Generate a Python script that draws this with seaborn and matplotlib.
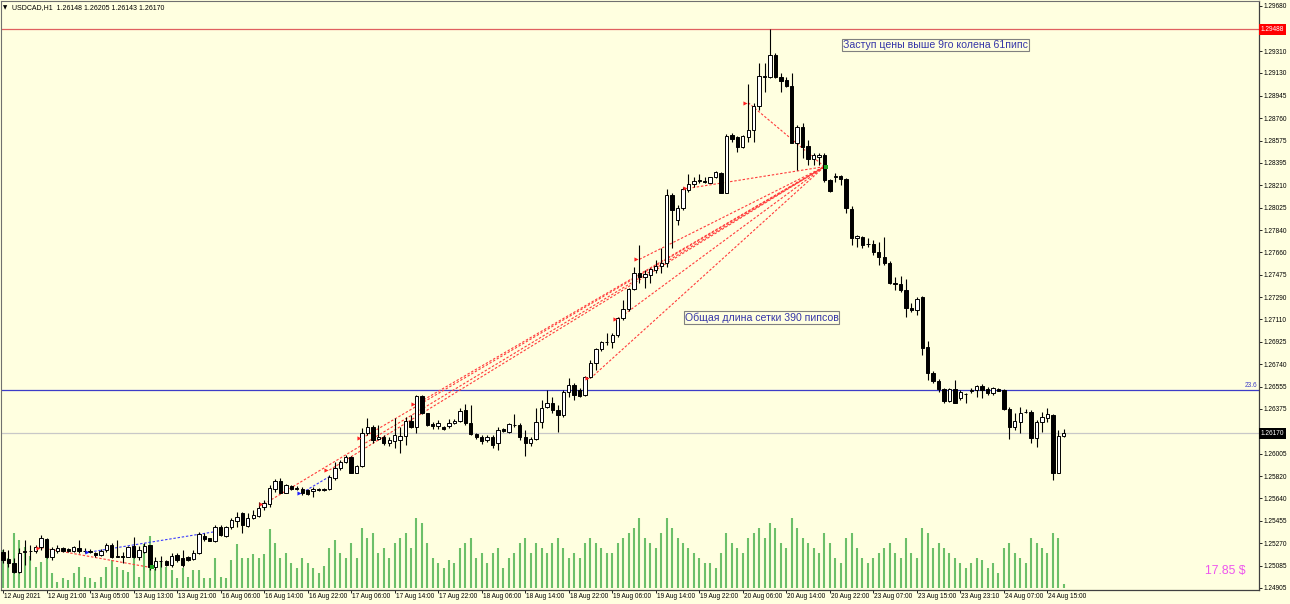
import matplotlib
matplotlib.use("Agg")
import matplotlib.pyplot as plt
import matplotlib.transforms as mtransforms
import numpy as np
import pandas as pd
import seaborn as sns

# ---------------- data ----------------
symbol = "USDCAD,H1"
header_values = ["1.26148", "1.26205", "1.26143", "1.26170"]

opens = [
    1.25200, 1.25137, 1.25105, 1.25036, 1.25195, 1.25206, 1.25209, 1.25236, 1.25304, 1.25154,
    1.25209, 1.25228, 1.25220, 1.25209, 1.25228, 1.25209, 1.25209, 1.25192, 1.25170, 1.25214,
    1.25255, 1.25159, 1.25165, 1.25159, 1.25247, 1.25154, 1.25200, 1.25252, 1.25077, 1.25127,
    1.25127, 1.25091, 1.25170, 1.25146, 1.25154, 1.25137, 1.25192, 1.25329, 1.25310, 1.25291,
    1.25406, 1.25329, 1.25400, 1.25452, 1.25515, 1.25411, 1.25474, 1.25493, 1.25564, 1.25592,
    1.25715, 1.25783, 1.25684, 1.25739, 1.25715, 1.25712, 1.25706, 1.25701, 1.25712, 1.25706,
    1.25712, 1.25802, 1.25884, 1.25939, 1.25975, 1.25849, 1.25903, 1.26177, 1.26226, 1.26122,
    1.26139, 1.26095, 1.26111, 1.26117, 1.26150, 1.26276, 1.26226, 1.26481, 1.26336, 1.26246,
    1.26232, 1.26226, 1.26232, 1.26259, 1.26276, 1.26363, 1.26259, 1.26166, 1.26139, 1.26117,
    1.26144, 1.26089, 1.26205, 1.26185, 1.26243, 1.26240, 1.26139, 1.26089, 1.26122, 1.26267,
    1.26385, 1.26418, 1.26360, 1.26322, 1.26513, 1.26568, 1.26527, 1.26486, 1.26631, 1.26751,
    1.26861, 1.26924, 1.26924, 1.26979, 1.27115, 1.27189, 1.27354, 1.27490, 1.27458, 1.27471,
    1.27512, 1.27545, 1.27567, 1.28128, 1.27923, 1.28019, 1.28169, 1.28219, 1.28246, 1.28246,
    1.28229, 1.28273, 1.28312, 1.28147, 1.28621, 1.28602, 1.28520, 1.28602, 1.28662, 1.28859,
    1.29098, 1.29100, 1.29278, 1.29094, 1.29072, 1.29023, 1.28558, 1.28686, 1.28530, 1.28421,
    1.28443, 1.28456, 1.28251, 1.28280, 1.28284, 1.28257, 1.28013, 1.27775, 1.27786, 1.27722,
    1.27726, 1.27664, 1.27617, 1.27572, 1.27408, 1.27397, 1.27348, 1.27198, 1.27184, 1.27288,
    1.26878, 1.26669, 1.26604, 1.26533, 1.26439, 1.26533, 1.26459, 1.26497, 1.26519, 1.26527,
    1.26560, 1.26533, 1.26500, 1.26533, 1.26527, 1.26369, 1.26226, 1.26267, 1.26345, 1.26349,
    1.26131, 1.26267, 1.26295, 1.26322, 1.25848, 1.26148,
]
highs = [
    1.25222, 1.25214, 1.25146, 1.25228, 1.25296, 1.25255, 1.25258, 1.25337, 1.25310, 1.25241,
    1.25255, 1.25241, 1.25228, 1.25247, 1.25296, 1.25228, 1.25222, 1.25200, 1.25220, 1.25269,
    1.25269, 1.25296, 1.25200, 1.25247, 1.25324, 1.25247, 1.25274, 1.25258, 1.25154, 1.25165,
    1.25132, 1.25187, 1.25187, 1.25214, 1.25165, 1.25214, 1.25365, 1.25351, 1.25315, 1.25419,
    1.25415, 1.25408, 1.25474, 1.25529, 1.25529, 1.25515, 1.25543, 1.25611, 1.25625, 1.25748,
    1.25794, 1.25802, 1.25752, 1.25745, 1.25739, 1.25734, 1.25712, 1.25734, 1.25720, 1.25720,
    1.25829, 1.25939, 1.25953, 1.25994, 1.25985, 1.25910, 1.26213, 1.26295, 1.26240, 1.26240,
    1.26158, 1.26144, 1.26295, 1.26226, 1.26309, 1.26322, 1.26486, 1.26486, 1.26340, 1.26267,
    1.26281, 1.26232, 1.26287, 1.26287, 1.26377, 1.26412, 1.26404, 1.26177, 1.26158, 1.26158,
    1.26158, 1.26226, 1.26213, 1.26254, 1.26330, 1.26254, 1.26199, 1.26139, 1.26377, 1.26445,
    1.26527, 1.26472, 1.26404, 1.26527, 1.26623, 1.26582, 1.26540, 1.26642, 1.26773, 1.26869,
    1.26932, 1.26992, 1.26992, 1.27129, 1.27266, 1.27362, 1.27540, 1.27718, 1.27512, 1.27526,
    1.27594, 1.27690, 1.28175, 1.28142, 1.28046, 1.28197, 1.28300, 1.28279, 1.28300, 1.28279,
    1.28279, 1.28328, 1.28320, 1.28629, 1.28634, 1.28613, 1.28621, 1.29040, 1.28881, 1.29209,
    1.29209, 1.29488, 1.29291, 1.29127, 1.29100, 1.29127, 1.28703, 1.28720, 1.28580, 1.28473,
    1.28473, 1.28473, 1.28260, 1.28309, 1.28292, 1.28268, 1.28038, 1.27800, 1.27791, 1.27775,
    1.27759, 1.27745, 1.27783, 1.27586, 1.27457, 1.27463, 1.27438, 1.27242, 1.27293, 1.27299,
    1.26932, 1.26683, 1.26617, 1.26544, 1.26544, 1.26609, 1.26527, 1.26505, 1.26544, 1.26568,
    1.26576, 1.26552, 1.26554, 1.26540, 1.26535, 1.26390, 1.26338, 1.26390, 1.26371, 1.26363,
    1.26281, 1.26349, 1.26382, 1.26330, 1.26199, 1.26205,
]
lows = [
    1.25105, 1.25077, 1.25023, 1.25023, 1.25091, 1.25132, 1.25187, 1.25214, 1.25146, 1.25132,
    1.25192, 1.25200, 1.25200, 1.25200, 1.25192, 1.25187, 1.25192, 1.25159, 1.25165, 1.25200,
    1.25151, 1.25154, 1.25105, 1.25154, 1.25146, 1.25132, 1.25187, 1.25050, 1.25050, 1.25077,
    1.25085, 1.25077, 1.25118, 1.25077, 1.25127, 1.25132, 1.25181, 1.25291, 1.25285, 1.25283,
    1.25330, 1.25320, 1.25384, 1.25406, 1.25351, 1.25400, 1.25466, 1.25482, 1.25543, 1.25570,
    1.25693, 1.25679, 1.25679, 1.25706, 1.25706, 1.25665, 1.25665, 1.25646, 1.25701, 1.25701,
    1.25706, 1.25789, 1.25871, 1.25931, 1.25843, 1.25843, 1.25898, 1.26158, 1.26089, 1.26117,
    1.26076, 1.26068, 1.26048, 1.26007, 1.26076, 1.26213, 1.26172, 1.26328, 1.26235, 1.26205,
    1.26205, 1.26199, 1.26213, 1.26248, 1.26267, 1.26240, 1.26158, 1.26122, 1.26084, 1.26103,
    1.26048, 1.26035, 1.26185, 1.26172, 1.26226, 1.26117, 1.25985, 1.26068, 1.26117, 1.26212,
    1.26377, 1.26340, 1.26185, 1.26308, 1.26472, 1.26445, 1.26472, 1.26478, 1.26623, 1.26691,
    1.26850, 1.26896, 1.26869, 1.26965, 1.27102, 1.27178, 1.27348, 1.27403, 1.27362, 1.27403,
    1.27485, 1.27485, 1.27540, 1.27690, 1.27882, 1.28004, 1.28155, 1.28197, 1.28224, 1.28224,
    1.28224, 1.28265, 1.28142, 1.28142, 1.28566, 1.28484, 1.28511, 1.28566, 1.28566, 1.28826,
    1.28977, 1.29086, 1.29086, 1.28977, 1.29018, 1.28552, 1.28333, 1.28432, 1.28375, 1.28375,
    1.28375, 1.28235, 1.28153, 1.28235, 1.28210, 1.27980, 1.27718, 1.27704, 1.27693, 1.27704,
    1.27636, 1.27553, 1.27553, 1.27397, 1.27348, 1.27334, 1.27129, 1.27170, 1.27143, 1.26815,
    1.26609, 1.26585, 1.26513, 1.26420, 1.26428, 1.26420, 1.26445, 1.26420, 1.26505, 1.26472,
    1.26462, 1.26486, 1.26486, 1.26515, 1.26360, 1.26122, 1.26199, 1.26177, 1.26338, 1.26092,
    1.26062, 1.26185, 1.26267, 1.25788, 1.25846, 1.26143,
]
closes = [
    1.25132, 1.25105, 1.25036, 1.25187, 1.25206, 1.25209, 1.25236, 1.25310, 1.25154, 1.25222,
    1.25228, 1.25206, 1.25206, 1.25236, 1.25209, 1.25206, 1.25198, 1.25170, 1.25209, 1.25255,
    1.25159, 1.25165, 1.25159, 1.25236, 1.25154, 1.25214, 1.25247, 1.25077, 1.25127, 1.25121,
    1.25091, 1.25165, 1.25132, 1.25091, 1.25132, 1.25192, 1.25346, 1.25302, 1.25291, 1.25406,
    1.25337, 1.25400, 1.25460, 1.25488, 1.25419, 1.25474, 1.25502, 1.25556, 1.25597, 1.25720,
    1.25783, 1.25684, 1.25745, 1.25712, 1.25720, 1.25684, 1.25673, 1.25712, 1.25706, 1.25715,
    1.25816, 1.25890, 1.25939, 1.25975, 1.25849, 1.25903, 1.26177, 1.26221, 1.26117, 1.26139,
    1.26089, 1.26117, 1.26158, 1.26150, 1.26276, 1.26226, 1.26481, 1.26336, 1.26240, 1.26232,
    1.26259, 1.26205, 1.26259, 1.26276, 1.26358, 1.26259, 1.26164, 1.26144, 1.26111, 1.26144,
    1.26076, 1.26199, 1.26194, 1.26248, 1.26238, 1.26139, 1.26095, 1.26122, 1.26267, 1.26382,
    1.26418, 1.26360, 1.26322, 1.26513, 1.26568, 1.26486, 1.26481, 1.26631, 1.26751, 1.26861,
    1.26924, 1.26918, 1.26979, 1.27115, 1.27189, 1.27354, 1.27490, 1.27458, 1.27479, 1.27518,
    1.27548, 1.27567, 1.28128, 1.28004, 1.28019, 1.28175, 1.28219, 1.28246, 1.28251, 1.28238,
    1.28273, 1.28317, 1.28147, 1.28615, 1.28585, 1.28520, 1.28613, 1.28662, 1.28859, 1.29105,
    1.29102, 1.29278, 1.29100, 1.29067, 1.29023, 1.28558, 1.28689, 1.28522, 1.28421, 1.28456,
    1.28456, 1.28251, 1.28163, 1.28288, 1.28257, 1.28019, 1.27775, 1.27791, 1.27718, 1.27726,
    1.27664, 1.27617, 1.27572, 1.27408, 1.27397, 1.27348, 1.27198, 1.27184, 1.27272, 1.26870,
    1.26669, 1.26604, 1.26533, 1.26439, 1.26533, 1.26423, 1.26513, 1.26494, 1.26523, 1.26560,
    1.26527, 1.26500, 1.26541, 1.26521, 1.26369, 1.26226, 1.26275, 1.26336, 1.26349, 1.26131,
    1.26267, 1.26308, 1.26328, 1.25848, 1.26150, 1.26170,
]
volumes = [
    1520, 1200, 2200, 1920, 1640, 1280, 840, 1040, 1200, 600,
    240, 400, 320, 600, 840, 440, 400, 240, 440, 840,
    1120, 840, 720, 640, 1200, 440, 1760, 2080, 760, 1040,
    840, 720, 400, 800, 440, 720, 720, 400, 400, 1200,
    440, 400, 1120, 1760, 1200, 1200, 1360, 1200, 1360, 2360,
    1800, 1200, 1400, 1000, 800, 1200, 1000, 800, 600, 880,
    1600, 1920, 1400, 1200, 1800, 1200, 2400, 2000, 2200, 1400,
    1600, 1200, 1800, 2000, 2200, 1600, 2800, 2600, 1800, 1200,
    1000, 800, 1120, 1000, 1600, 1800, 2000, 1200, 1400, 1000,
    1400, 1600, 800, 1200, 1400, 1800, 2000, 1400, 1800, 1600,
    1400, 1800, 2000, 1600, 1200, 1400, 1200, 1800, 2000, 1800,
    1600, 1400, 1400, 1800, 2000, 2200, 2400, 2800, 2000, 1800,
    1600, 2200, 2800, 2400, 2000, 1800, 1600, 1400, 1200, 1000,
    1000, 800, 1400, 2200, 1800, 1600, 1400, 2000, 2200, 2400,
    2000, 2600, 2400, 1800, 1600, 2800, 2400, 2000, 1800, 1600,
    1400, 2200, 1800, 1200, 1000, 2000, 2200, 1600, 1200, 1000,
    1200, 1400, 1600, 1800, 1400, 1200, 2000, 1400, 1200, 2400,
    2200, 1600, 1800, 1600, 1400, 1200, 1000, 800, 1000, 1200,
    1120, 800, 1000, 600, 1600, 1800, 1400, 1200, 1000, 2000,
    1800, 1600, 1400, 2200, 2000, 160,
]

time_label_bars = [0, 8, 16, 24, 32, 40, 48, 56, 64, 72, 80, 88, 96, 104, 112, 120,
                   128, 136, 144, 152, 160, 168, 176, 184, 192]
time_labels = ["12 Aug 2021", "12 Aug 21:00", "13 Aug 05:00", "13 Aug 13:00", "13 Aug 21:00",
               "16 Aug 06:00", "16 Aug 14:00", "16 Aug 22:00", "17 Aug 06:00", "17 Aug 14:00",
               "17 Aug 22:00", "18 Aug 06:00", "18 Aug 14:00", "18 Aug 22:00", "19 Aug 06:00",
               "19 Aug 14:00", "19 Aug 22:00", "20 Aug 06:00", "20 Aug 14:00", "20 Aug 22:00",
               "23 Aug 07:00", "23 Aug 15:00", "23 Aug 23:10", "24 Aug 07:00", "24 Aug 15:00"]
price_ticks = [1.29680, 1.29310, 1.29130, 1.28945, 1.28760, 1.28575, 1.28395, 1.28210,
               1.28025, 1.27840, 1.27660, 1.27475, 1.27290, 1.27110, 1.26925, 1.26740,
               1.26555, 1.26375, 1.26005, 1.25820, 1.25640, 1.25455, 1.25270, 1.25085, 1.24905]

# grid trades (sell knees closed together), earlier cycle trades
sell_entry_bars = [48, 60, 66, 76, 108, 113, 117, 126, 137]
sell_entry_prices = [1.25591, 1.25870, 1.26131, 1.26412, 1.26623, 1.27108, 1.27600, 1.28183, 1.28886]
sell_exit_bar = 151
sell_exit_price = 1.28361
early_sell = (7, 1.25232, 27, 1.25071)
buy_trades = [(16, 1.25197, 39, 1.25364), (55, 1.25684, 60, 1.25816)]

max_level = 1.29488
fib_level = 1.26530
fib_label = "23.6"
last_price = 1.26170
profit_text = "17.85 $"
note_top = "Заступ цены выше 9го колена 61пипс"
note_top_pos = (154.4, 1.29360)
note_mid = "Общая длина сетки 390 пипсов"
note_mid_pos = (125.3, 1.27122)

# ---------------- style ----------------
sns.set_theme(style="white")
plt.rcParams['font.family'] = ['Liberation Sans', 'DejaVu Sans']
BG = "#FFFFE0"

W, H = 1290, 604
fig = plt.figure(figsize=(W / 100, H / 100), dpi=100)
fig.patch.set_facecolor(BG)
rect = [1 / W, 14 / H, 1258 / W, 589 / H]

ax_vol = fig.add_axes(rect)
ax_vol.set_facecolor(BG)
ax = fig.add_axes(rect, sharex=ax_vol)
ax.patch.set_alpha(0)

n = len(closes)
x = np.arange(n)
o = np.array(opens); c = np.array(closes); hi = np.array(highs); lo = np.array(lows)

# volumes
ax_vol.vlines(x, 0, volumes, color="#5cb85c", lw=1.5, alpha=0.9)
ax_vol.set_ylim(-80, 23480)
ax_vol.set_yticks([])
ax_vol.tick_params(axis="x", which="both", bottom=False, top=False,
                   labelbottom=False, labeltop=False)
for s in ax_vol.spines.values():
    s.set_visible(False)

x_left, x_right = -0.37, 230.9
ax.set_xlim(x_left, x_right)
ax.set_ylim(1.24885, 1.29721)

# horizontal levels
ax.axhline(max_level, color="#e06060", lw=0.9, zorder=1)
ax.axhline(fib_level, color="#3c3cc8", lw=0.9, zorder=1)
ax.axhline(last_price, color="#c8c8c8", lw=0.9, zorder=1)

# trade lines via seaborn
rows = []
for k, (eb, ep) in enumerate(zip(sell_entry_bars, sell_entry_prices)):
    rows.append(dict(trade=f"s{k}", bar=eb, price=ep, kind="sell"))
    rows.append(dict(trade=f"s{k}", bar=sell_exit_bar, price=sell_exit_price, kind="sell"))
rows.append(dict(trade="e0", bar=early_sell[0], price=early_sell[1], kind="sell"))
rows.append(dict(trade="e0", bar=early_sell[2], price=early_sell[3], kind="sell"))
for k, t in enumerate(buy_trades):
    rows.append(dict(trade=f"b{k}", bar=t[0], price=t[1], kind="buy"))
    rows.append(dict(trade=f"b{k}", bar=t[2], price=t[3], kind="buy"))
trades = pd.DataFrame(rows)
sns.lineplot(data=trades[trades.kind == "sell"], x="bar", y="price", units="trade",
             estimator=None, color="#ff3b3b", lw=0.8, dashes=False,
             linestyle=(0, (2.2, 1.6)), ax=ax, zorder=2, legend=False)
sns.lineplot(data=trades[trades.kind == "buy"], x="bar", y="price", units="trade",
             estimator=None, color="#3b3bff", lw=0.8, dashes=False,
             linestyle=(0, (2.2, 1.6)), ax=ax, zorder=2, legend=False)

# candles
up = c >= o
ax.vlines(x, lo, hi, color="black", lw=0.8, zorder=3)
body_h = np.maximum(np.abs(c - o), 0.000025)
body_b = np.minimum(o, c)
ax.bar(x[up], body_h[up], bottom=body_b[up], width=0.62, color="white",
       edgecolor="black", lw=0.7, zorder=4)
ax.bar(x[~up], body_h[~up], bottom=body_b[~up], width=0.62, color="black",
       edgecolor="black", lw=0.7, zorder=4)

# entry / exit markers
entry_b = sell_entry_bars + [early_sell[0]]
entry_p = sell_entry_prices + [early_sell[1]]
ax.scatter(np.array(entry_b) - 0.55, entry_p, marker=">", s=9, color="#ff2020", zorder=5, lw=0)
ax.scatter([b[0] - 0.55 for b in buy_trades], [b[1] for b in buy_trades], marker=">", s=9,
           color="#2020ff", zorder=5, lw=0)
ax.scatter([sell_exit_bar + 0.3, early_sell[2] + 0.3], [sell_exit_price, early_sell[3]],
           marker="s", s=5, color="#20a020", zorder=5, lw=0)

# axes styling
FS = 4.7
ax.yaxis.tick_right()
ax.set_yticks(price_ticks)
ax.set_yticklabels([f"{p:.5f}" for p in price_ticks])
ax.tick_params(axis="y", direction="out", length=2, width=0.6, pad=1.5,
               labelsize=FS, colors="black", right=True, left=False)
ax.set_xticks(time_label_bars)
ax.set_xticklabels(time_labels, ha="left")
ax.tick_params(axis="x", direction="out", length=2, width=0.6, pad=0.3,
               labelsize=FS, colors="black", bottom=True)
for lab in ax.get_xticklabels():
    lab.set_transform(lab.get_transform() + mtransforms.ScaledTranslation(1 / 100, 0, fig.dpi_scale_trans))
for side in ["left", "top"]:
    ax.spines[side].set_color("#707070")
    ax.spines[side].set_linewidth(0.8)
for side in ["right", "bottom"]:
    ax.spines[side].set_color("#404040")
    ax.spines[side].set_linewidth(0.9)
ax.set_xlabel("")
ax.set_ylabel("")
ax.grid(False)

# price boxes on the right axis
blend = mtransforms.blended_transform_factory(ax.transAxes, ax.transData)
ax.text(1.0015, max_level, f"{max_level:.5f}", transform=blend, ha="left", va="center",
        fontsize=FS, color="white", zorder=10, clip_on=False,
        bbox=dict(facecolor="#ff0000", edgecolor="none", pad=1.2))
ax.text(1.0015, last_price, f"{last_price:.5f}", transform=blend, ha="left", va="center",
        fontsize=FS, color="white", zorder=10, clip_on=False,
        bbox=dict(facecolor="black", edgecolor="none", pad=1.2))
ax.text(0.9985, fib_level + 0.00004, fib_label, transform=blend, ha="right", va="bottom",
        fontsize=FS, color="#3c3cc8")

# notes
ax.text(note_top_pos[0], note_top_pos[1], note_top, ha="left", va="center", fontsize=7.6,
        color="#3535a8", zorder=6,
        bbox=dict(facecolor="none", edgecolor="#808080", lw=0.8, pad=0.6))
ax.text(note_mid_pos[0], note_mid_pos[1], note_mid, ha="left", va="center", fontsize=7.6,
        color="#3535a8", zorder=6,
        bbox=dict(facecolor="none", edgecolor="#808080", lw=0.8, pad=0.6))

ax.text((1205 - 1) / 1258, 1 - (571 - 1) / 589, profit_text, transform=ax.transAxes,
        ha="left", va="center", fontsize=8.8, color="#ee55ee")

# header
fig.text(3 / W, 1 - 7.5 / H, "▼", fontsize=4, color="black", va="center", ha="left",
         family=["DejaVu Sans"])
fig.text(12 / W, 1 - 7.5 / H, symbol + "  " + " ".join(header_values), fontsize=5.0,
         color="black", va="center", ha="left")

fig.savefig("out.png", dpi=100, facecolor=BG)
